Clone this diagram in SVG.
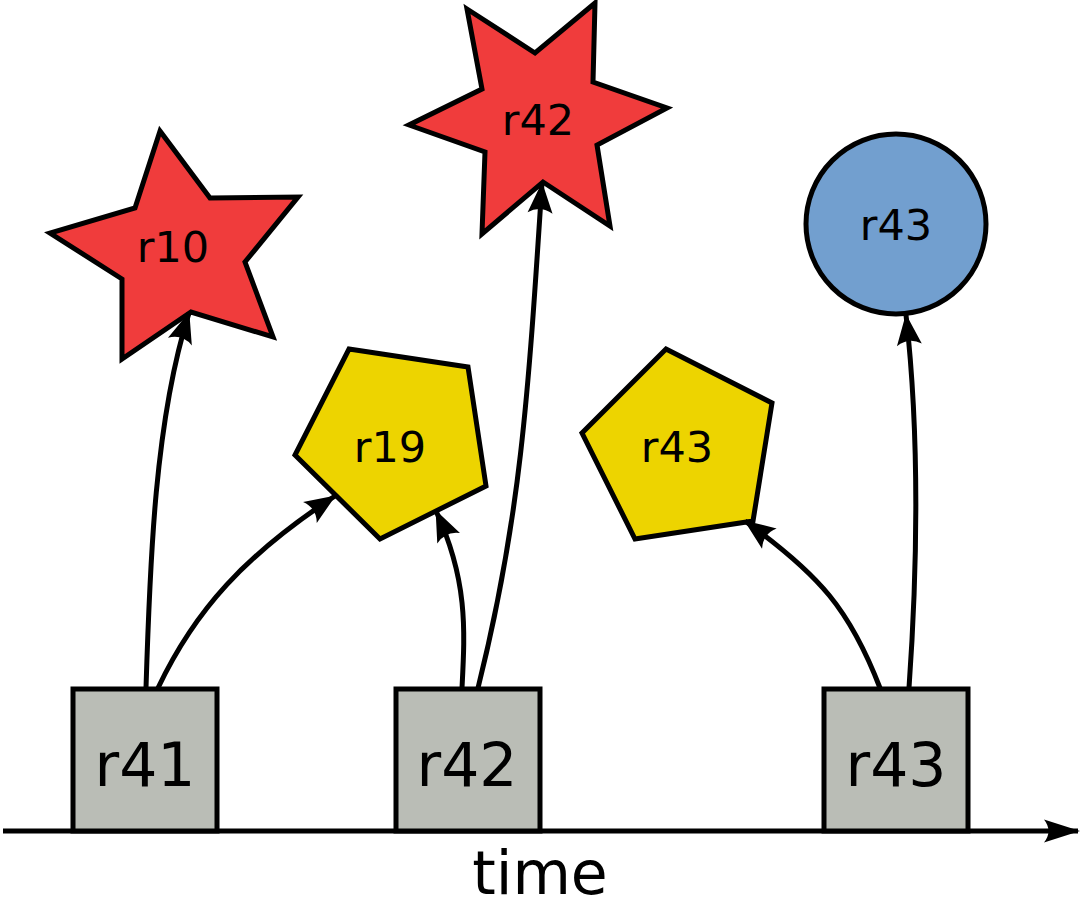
<svg xmlns="http://www.w3.org/2000/svg" width="1081" height="900" viewBox="0 0 1081 900">
<style>
.shape{stroke:#000;stroke-width:5;stroke-linejoin:miter}
.red{fill:#f03c3c}
.yellow{fill:#edd400}
.blue{fill:#729fcf}
.grey{fill:#babdb6}
.lbl{font-family:"DejaVu Sans",sans-serif;font-size:43px;fill:#000;text-anchor:middle}
.big{font-family:"DejaVu Sans",sans-serif;font-size:60px;fill:#000;text-anchor:middle}
.conn{fill:none;stroke:#000;stroke-width:5}
</style>
<defs>
<marker id="arr" markerUnits="userSpaceOnUse" markerWidth="46" markerHeight="34" viewBox="-38 -17 46 34" refX="0" refY="0" orient="auto">
<path d="M1,0 L-30,-12.5 Q-22,0 -30,12.5 Z" fill="#000"/>
</marker>
<marker id="axarr" markerUnits="userSpaceOnUse" markerWidth="46" markerHeight="32" viewBox="-40 -16 46 32" refX="0" refY="0" orient="auto">
<path d="M2,0 L-34,-11.5 Q-25,0 -34,11.5 Z" fill="#000"/>
</marker>
</defs>
<g id="axis">
<line x1="3" y1="831" x2="1078" y2="831" stroke="#000" stroke-width="5" marker-end="url(#axarr)"/>
<text class="big" x="540" y="894">time</text>
</g>
<g id="node-r10">
<polygon class="shape red" points="160,131 210,198 298,197 245,262 273,337 191,312 122,359 122,279 50,233 135,208"/>
<text class="lbl" x="173" y="262">r10</text>
</g>
<g id="node-r42-star">
<polygon class="shape red" points="467,9 535,53 595,3 593,82 667,108 597,145 610,226 543,182 482,234 485,152 409,125 482,89"/>
<text class="lbl" x="538" y="135">r42</text>
</g>
<g id="node-r19">
<polygon class="shape yellow" points="349,349 468,367 486,486 380,539 295,455"/>
<text class="lbl" x="390" y="462">r19</text>
</g>
<g id="node-r43-pent">
<polygon class="shape yellow" points="666,349 772,403 753,521 635,539 582,433"/>
<text class="lbl" x="677" y="462">r43</text>
</g>
<g id="node-r43-circle">
<circle class="shape blue" cx="896" cy="224" r="90"/>
<text class="lbl" x="896" y="240">r43</text>
</g>
<g id="node-r41">
<rect class="shape grey" x="73" y="689" width="144" height="142"/>
<text class="big" x="145" y="786">r41</text>
</g>
<g id="node-r42">
<rect class="shape grey" x="396" y="689" width="144" height="142"/>
<text class="big" x="467" y="786">r42</text>
</g>
<g id="node-r43">
<rect class="shape grey" x="824" y="689" width="144" height="142"/>
<text class="big" x="896" y="786">r43</text>
</g>
<g id="connectors">
<path class="conn" d="M146,688 C150,560 155,420 189,313" marker-end="url(#arr)"/>
<path class="conn" d="M158,688 C195,610 245,555 335,496" marker-end="url(#arr)"/>
<path class="conn" d="M462,688 C465,630 468,580 436,511" marker-end="url(#arr)"/>
<path class="conn" d="M478,688 C520,520 528,400 542,183" marker-end="url(#arr)"/>
<path class="conn" d="M880,688 C850,610 820,575 745,521" marker-end="url(#arr)"/>
<path class="conn" d="M909,688 C918,560 919,430 906,315" marker-end="url(#arr)"/>
</g>
</svg>
